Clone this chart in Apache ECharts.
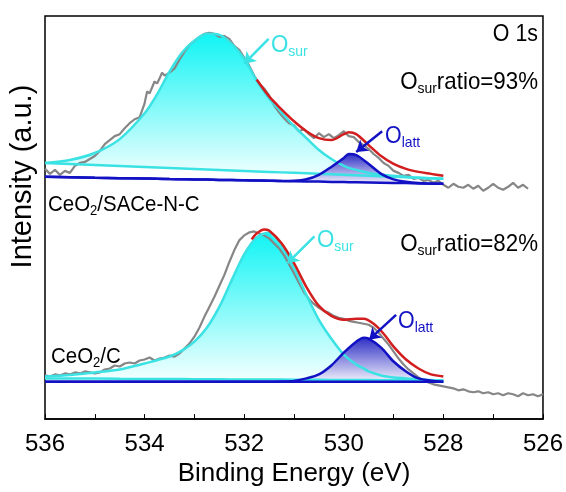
<!DOCTYPE html>
<html>
<head>
<meta charset="utf-8">
<title>O 1s XPS</title>
<script src="https://cdn.jsdelivr.net/npm/echarts@6/dist/echarts.min.js"></script>
<style>
  html, body { margin: 0; padding: 0; background: #fff; }
  #main { width: 566px; height: 492px; }
</style>
</head>
<body>
<div id="main"></div>
<script>
// x tick labels (binding energy, eV)
var xTicks = [536, 534, 532, 530, 528, 526];

// ---- CeO2/SACe-N-C (upper trace) ----
var upFitEV   = [536, 535.5, 535, 534.5, 534, 533.75, 533.5, 533.25, 533, 532.75, 532.5, 532.25, 532, 531.75, 531.5, 531.25, 531, 530.75, 530.5, 530.25, 530, 529.9, 529.75, 529.5, 529.25, 529, 528.75, 528.5, 528];
var upSurFit  = [258, 261, 268, 282, 308, 327, 350, 369, 381, 388, 387, 378, 363, 341, 323, 309, 295, 283, 271, 262, 255, 253, 251, 248, 246, 245, 244, 243, 242];
var upSurBase = [258, 257, 256, 255, 254, 253.5, 253, 252.5, 252, 251.5, 251, 250.5, 250, 249.5, 249, 248.5, 248, 247.5, 247, 246.5, 246, 245.8, 245.5, 245, 244.5, 244, 243.5, 243, 242];
var upLatBase = [244, 243.6, 243.1, 242.7, 242.3, 242.1, 241.8, 241.6, 241.4, 241.2, 240.9, 240.7, 240.5, 240.3, 240.1, 239.8, 239.6, 239.4, 239.2, 238.9, 238.7, 238.6, 238.5, 238.3, 238.1, 237.9, 237.7, 237.4, 237];
var upLatFit  = [244, 243.6, 243.1, 242.7, 242.3, 242.1, 241.8, 241.6, 241.4, 241.2, 240.9, 240.7, 240.5, 240.3, 240.1, 239.8, 240, 241.5, 246, 254, 263, 267, 266, 257, 247, 241.5, 239, 237.8, 237];
var upEnvEV   = [531.75, 531.5, 531.25, 531, 530.75, 530.5, 530.25, 530, 529.9, 529.75, 529.5, 529.25, 529, 528.75, 528.5, 528.25, 528];
var upEnvFit  = [342, 325, 312, 300, 290, 283, 281, 287, 289, 287, 276, 265, 257, 252, 249, 247, 245];
var upRaw = [
  [536.0,252],[535.9,247],[535.8,251],[535.7,246],[535.6,250],[535.5,248],[535.4,255],[535.3,258],[535.2,259],[535.1,262],
  [535.0,265],[534.9,270],[534.8,277],[534.7,281],[534.6,285],[534.5,287],[534.4,293],[534.3,298],[534.2,302],[534.1,304],
  [534.0,318],[533.95,330],[533.9,328],[533.85,334],[533.8,340],[533.75,338],[533.7,343],[533.65,349],[533.6,346],[533.5,349],
  [533.4,353],[533.3,362],[533.2,370],[533.1,377],[533.0,381],[532.9,385],[532.8,388],[532.7,389],[532.6,388],[532.5,385],
  [532.4,386],[532.3,383],[532.2,376],[532.1,372],[532.0,364],[531.9,356],[531.8,346],[531.7,338],[531.6,333],[531.5,326],
  [531.4,316],[531.3,309],[531.2,303],[531.1,298],[531.0,296],[530.9,290],[530.8,292],[530.7,287],[530.6,283],[530.5,288],
  [530.4,284],[530.3,287],[530.2,283],[530.1,286],[530.0,290],[529.9,285],[529.8,284],[529.7,279],[529.6,276],[529.5,272],
  [529.4,267],[529.3,263],[529.2,258],[529.1,255],[529.0,250],[528.9,248],[528.8,245],[528.7,246],[528.6,242],[528.5,243],
  [528.4,240],[528.3,241],[528.2,238],[528.1,240],[528.0,236],[527.9,233],[527.8,237],[527.7,234],[527.6,233],[527.5,236],
  [527.4,232],[527.3,235],[527.2,230],[527.1,233],[527.0,237],[526.9,233],[526.8,231],[526.7,234],[526.6,238],[526.5,233],
  [526.4,236],[526.3,232]
];

// ---- CeO2/C (lower trace) ----
var loFitEV   = [536, 535.5, 535, 534.5, 534, 533.5, 533.25, 533, 532.75, 532.5, 532.25, 532, 531.75, 531.5, 531.25, 531, 530.75, 530.5, 530.25, 530, 529.75, 529.6, 529.5, 529.25, 529, 528.75, 528.5, 528];
var loSurFit  = [43, 44.5, 47, 50, 56, 63, 69, 78, 92, 113, 140, 166, 183, 188, 174, 152, 125, 100, 81, 65, 55, 51, 48, 44, 42, 41, 40, 39];
var loSurBase = [41, 40.9, 40.8, 40.6, 40.5, 40.4, 40.3, 40.2, 40.2, 40.1, 40, 40, 39.9, 39.8, 39.8, 39.7, 39.6, 39.6, 39.5, 39.4, 39.4, 39.3, 39.3, 39.2, 39.2, 39.1, 39.1, 39];
var loLatBase = [37.5, 37.5, 37.5, 37.5, 37.5, 37.5, 37.5, 37.5, 37.5, 37.5, 37.5, 37.5, 37.5, 37.5, 37.5, 37.5, 37.5, 37.5, 37.5, 37.5, 37.5, 37.5, 37.5, 37.5, 37.5, 37.5, 37.5, 37.5];
var loLatFit  = [37.5, 37.5, 37.5, 37.5, 37.5, 37.5, 37.5, 37.5, 37.5, 37.5, 37.5, 37.5, 37.5, 37.5, 37.8, 38.5, 41, 45, 54, 67, 78, 82, 81, 72, 58, 48, 41, 37.5];
var loEnvEV   = [531.85, 531.75, 531.6, 531.5, 531.25, 531, 530.75, 530.5, 530.25, 530, 529.75, 529.6, 529.4, 529.2, 529, 528.75, 528.5, 528.25, 528];
var loEnvFit  = [181, 187, 191, 190, 177, 157, 133, 114, 104, 100, 101, 101, 96, 86, 73, 60, 51, 45, 43];
var loRaw = [
  [536.0,44],[535.9,43],[535.8,45],[535.7,44],[535.6,46],[535.5,45],[535.4,47],[535.3,46],[535.2,48],[535.1,47],
  [535.0,46],[534.9,47],[534.8,50],[534.7,51],[534.6,54],[534.5,53],[534.4,56],[534.3,57],[534.2,56],[534.1,59],
  [534.0,60],[533.9,62],[533.8,59],[533.7,61],[533.6,62],[533.5,64],[533.4,63],[533.3,66],[533.2,71],[533.1,76],
  [533.0,83],[532.9,92],[532.8,103],[532.7,113],[532.6,123],[532.5,134],[532.4,145],[532.3,158],[532.2,170],[532.1,180],
  [532.0,185],[531.9,188],[531.8,189],[531.7,187],[531.6,185],[531.5,182],[531.4,177],[531.3,172],[531.2,165],[531.1,156],
  [531.0,147],[530.9,137],[530.8,128],[530.7,121],[530.6,116],[530.5,112],[530.4,109],[530.3,107],[530.2,104],[530.1,102],
  [530.0,101],[529.9,99],[529.8,98],[529.7,97],[529.6,96],[529.5,95],[529.4,92],[529.3,87],[529.2,81],[529.1,75],
  [529.0,68],[528.9,61],[528.8,55],[528.7,50],[528.6,46],[528.5,42],[528.4,39],[528.3,37],[528.2,35],[528.1,34],
  [528.0,33],[527.9,32],[527.8,31],[527.7,29],[527.6,30],[527.5,28],[527.4,27],[527.3,28],[527.2,26],[527.1,27],
  [527.0,25],[526.9,26],[526.8,24],[526.7,26],[526.6,25],[526.5,23],[526.4,26],[526.3,24],[526.2,25],[526.1,23],
  [526.0,25]
];

// arrows: [tail, tip] in (eV, intensity)
var arrowSurUp  = [[531.51, 383], [532.0, 358]];
var arrowLatUp  = [[529.23, 290], [529.75, 269]];
var arrowSurLo  = [[530.59, 184], [531.13, 157]];
var arrowLatLo  = [[528.95, 105], [529.49, 80]];

var FONT = '"Liberation Sans", Arial, sans-serif';
var CYAN = '#3ae2e4', BLUE = '#1212c4', RED = '#d21e1e', GRAY = '#868686';

function pairs(xs, ys) {
  return xs.map(function (x, i) { return [x, ys[i]]; });
}
function grad(top, bottom) {
  return new echarts.graphic.LinearGradient(0, 0, 0, 1, [
    { offset: 0, color: top }, { offset: 1, color: bottom }
  ]);
}
function lineS(data, color, width, extra) {
  var s = {
    type: 'line', data: data, symbol: 'none', silent: true,
    lineStyle: { color: color, width: width }
  };
  for (var k in extra) s[k] = extra[k];
  return s;
}
// shaded band between a fitted peak and its baseline
function fillS(xs, top, base, fill) {
  return {
    type: 'custom', silent: true, data: [0], clip: true,
    renderItem: function (params, api) {
      var pts = [], i;
      for (i = 0; i < xs.length; i++) pts.push(api.coord([xs[i], top[i]]));
      for (i = xs.length - 1; i >= 0; i--) pts.push(api.coord([xs[i], base[i]]));
      return { type: 'polygon', shape: { points: pts }, style: { fill: fill } };
    }
  };
}
function arrowItem(a, color) {
  return [{ coord: a[0], lineStyle: { color: color, width: 2.5, type: 'solid' } }, { coord: a[1] }];
}
// label with subscript, e.g. O + sur
function subLabel(x, y, align, color, main, sub, rest, size, subSize) {
  var t = '{m|' + main + '}{s|' + sub + '}' + (rest ? '{m|' + rest + '}' : '');
  return {
    type: 'text', x: x, y: y, scaleX: 0.93, silent: true,
    style: {
      text: t, align: align, verticalAlign: 'top', fill: color,
      rich: {
        m: { fontSize: size, fontFamily: FONT, fill: color, lineHeight: size + 2, verticalAlign: 'top' },
        s: { fontSize: subSize, fontFamily: FONT, fill: color, lineHeight: subSize, verticalAlign: 'bottom', padding: [Math.round(size * 0.55), 0, 0, 0] }
      }
    }
  };
}

var chart = echarts.init(document.getElementById('main'));

var series = [
  lineS(upRaw, GRAY, 2.2, {}),
  lineS(loRaw, GRAY, 2.2, {}),

  // upper trace
  fillS(upFitEV, upSurFit, upSurBase, grad('#10f4f4', '#f4ffff')),
  lineS(pairs(upFitEV, upSurBase), CYAN, 2.5, {}),
  lineS(pairs(upFitEV, upSurFit), CYAN, 2.5, { smooth: 0.3 }),
  fillS(upFitEV, upLatFit, upLatBase, grad('#2e2ec6', '#f2f2fc')),
  lineS(pairs(upFitEV, upLatBase), BLUE, 2.5, {}),
  lineS(pairs(upFitEV, upLatFit), BLUE, 2.5, { smooth: 0.3 }),
  lineS(pairs(upEnvEV, upEnvFit), RED, 2.5, { smooth: 0.3 }),

  // lower trace
  fillS(loFitEV, loSurFit, loSurBase, grad('#10f4f4', '#f4ffff')),
  lineS(pairs(loFitEV, loSurBase), CYAN, 2.5, {}),
  lineS(pairs(loFitEV, loSurFit), CYAN, 2.5, { smooth: 0.3 }),
  fillS(loFitEV, loLatFit, loLatBase, grad('#2e2ec6', '#f2f2fc')),
  lineS(pairs(loFitEV, loLatBase), BLUE, 2.5, {}),
  lineS(pairs(loFitEV, loLatFit), BLUE, 2.5, { smooth: 0.3 }),
  lineS(pairs(loEnvEV, loEnvFit), RED, 2.5, {
    smooth: 0.3,
    markLine: {
      silent: true, animation: false,
      symbol: ['none', 'arrow'], symbolSize: 11,
      label: { show: false },
      data: [
        arrowItem(arrowSurUp, CYAN), arrowItem(arrowLatUp, BLUE),
        arrowItem(arrowSurLo, CYAN), arrowItem(arrowLatLo, BLUE)
      ]
    }
  })
];

chart.setOption({
  animation: false,
  backgroundColor: '#fff',
  grid: { left: 44, right: 21, top: 16, bottom: 70, show: true, borderColor: '#000', borderWidth: 1.5 },
  xAxis: {
    type: 'value', min: 526, max: 536, interval: 2, inverse: true,
    name: 'Binding Energy (eV)', nameLocation: 'middle', nameGap: 35,
    nameTextStyle: { fontFamily: FONT, fontSize: 26, color: '#000' },
    axisLine: { lineStyle: { color: '#000', width: 1.5 } },
    axisTick: { inside: true, length: 5, lineStyle: { color: '#000' } },
    minorTick: { show: true, splitNumber: 2, length: 5, lineStyle: { color: '#000' } },
    splitLine: { show: false },
    axisLabel: {
      fontFamily: FONT, fontSize: 24, color: '#000', margin: 13,
      formatter: function (v) { return xTicks.indexOf(v) >= 0 ? String(v) : ''; }
    }
  },
  yAxis: {
    type: 'value', min: 0, max: 406,
    name: 'Intensity (a.u.)', nameLocation: 'middle', nameGap: 8,
    nameTextStyle: { fontFamily: FONT, fontSize: 29, color: '#000', padding: [0, 0, 0, 82] },
    axisLine: { show: false }, axisTick: { show: false },
    axisLabel: { show: false }, splitLine: { show: false }
  },
  graphic: [
    { type: 'text', x: 538, y: 35, scaleX: 0.93, silent: true,
      style: { text: 'O 1s', align: 'right', verticalAlign: 'middle', font: '23px ' + FONT, fill: '#000' } },
    subLabel(538, 70, 'right', '#000', 'O', 'sur', 'ratio=93%', 24, 15),
    subLabel(538, 232, 'right', '#000', 'O', 'sur', 'ratio=82%', 24, 15),
    subLabel(48, 194, 'left', '#000', 'CeO', '2', '/SACe-N-C', 22, 14),
    subLabel(51, 346, 'left', '#000', 'CeO', '2', '/C', 22, 14),
    subLabel(271, 33, 'left', CYAN, 'O', 'sur', '', 24, 15),
    subLabel(385, 125, 'left', BLUE, 'O', 'latt', '', 23, 15),
    subLabel(317, 228, 'left', CYAN, 'O', 'sur', '', 24, 15),
    subLabel(398, 310, 'left', BLUE, 'O', 'latt', '', 23, 15)
  ],
  series: series
});
</script>
</body>
</html>
